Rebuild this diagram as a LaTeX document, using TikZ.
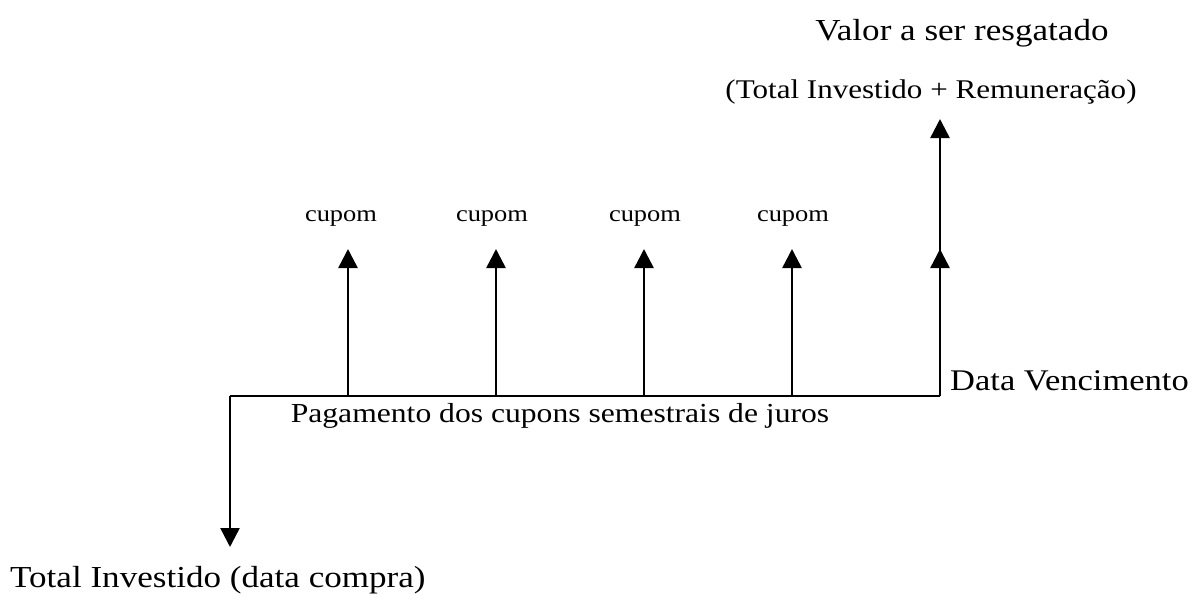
\documentclass[tikz,border=0pt]{standalone}
\usepackage{fontspec}
\setmainfont{Liberation Serif}[FakeStretch=1.15]
\usetikzlibrary{arrows.meta}
\begin{document}
\begin{tikzpicture}[x=1pt,y=-1pt,
  flow/.style={line width=2.5pt,-{Triangle[width=19pt,length=19pt]}},
  axis/.style={line width=2.5pt},
  lbl/.style={inner sep=0pt,text=black}]
\useasboundingbox (0,0) rectangle (1202,605);
\coordinate (o) at (230,396);
\coordinate (e) at (940,396);
\coordinate (down) at (230,547);
\coordinate (c1b) at (348,396);
\coordinate (c2b) at (496,396);
\coordinate (c3b) at (644,396);
\coordinate (c4b) at (792,396);
\coordinate (c1t) at (348,249);
\coordinate (c2t) at (496,249);
\coordinate (c3t) at (644,249);
\coordinate (c4t) at (792,249);
\coordinate (mid) at (940,249);
\coordinate (top) at (940,119);
\draw[axis] (o) -- (e);
\draw[flow] (o) -- (down);
\draw[flow] (c1b) -- (c1t);
\draw[flow] (c2b) -- (c2t);
\draw[flow] (c3b) -- (c3t);
\draw[flow] (c4b) -- (c4t);
\draw[flow] (e) -- (top);
\draw[flow] (e) -- (mid);
\node[lbl,font=\fontsize{23}{27}\selectfont] (k1) at (341,219) {cupom};
\node[lbl,font=\fontsize{23}{27}\selectfont] (k2) at (492,219) {cupom};
\node[lbl,font=\fontsize{23}{27}\selectfont] (k3) at (645,219) {cupom};
\node[lbl,font=\fontsize{23}{27}\selectfont] (k4) at (793,219) {cupom};
\node[lbl,font=\fontsize{30.5}{34}\selectfont] (v) at (962,33) {Valor a ser resgatado};
\node[lbl,font=\fontsize{27}{31}\selectfont] (r) at (931,92) {(Total Investido + Remuneração)};
\node[lbl,anchor=west,font=\fontsize{30}{34}\selectfont] (dv) at (950,381) {Data Vencimento};
\node[lbl,font=\fontsize{27.5}{31}\selectfont] (p) at (560,416) {Pagamento dos cupons semestrais de juros};
\node[lbl,anchor=west,font=\fontsize{30.5}{34}\selectfont] (ti) at (10,580) {Total Investido (data compra)};
\end{tikzpicture}
\end{document}
